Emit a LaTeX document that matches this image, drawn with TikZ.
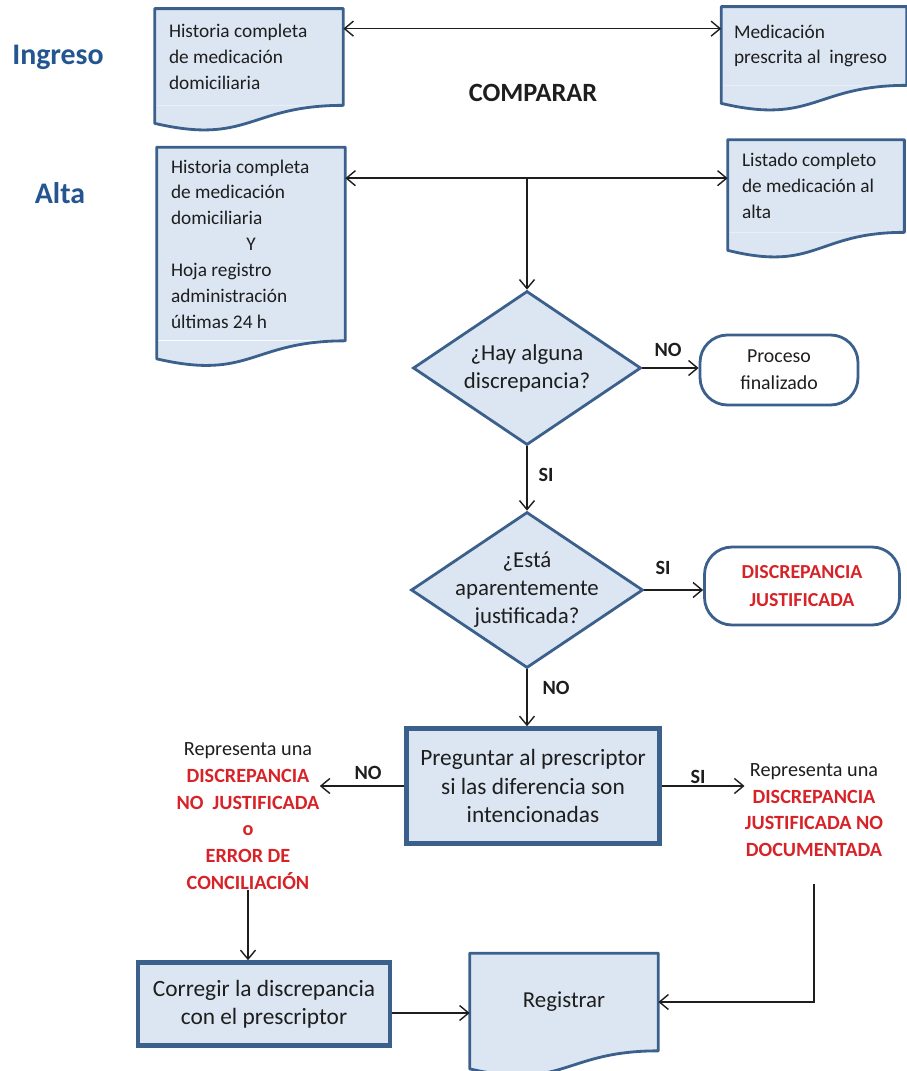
\documentclass[tikz,border=0pt]{standalone}
\usepackage{fontspec}
\setmainfont{Carlito}
\usetikzlibrary{shapes.geometric,arrows.meta,calc}

\definecolor{docfill}{RGB}{220,230,242}
\definecolor{docline}{RGB}{60,96,140}
\definecolor{lblue}{RGB}{35,85,145}
\definecolor{redtxt}{RGB}{215,35,40}
\definecolor{txt}{RGB}{30,30,30}

\newcommand{\docwave}[1]{%
  \fill[docfill] (#1.south east) .. controls (#1.south) and ($(#1.south)+(0,40)$) .. ($(#1.south west)+(0,18)$) -- (#1.south west) -- cycle;
  \draw[docline, line width=1.6pt, line join=round] ($(#1.south west)+(0,18)$) -- (#1.north west) -- (#1.north east) -- (#1.south east)
    .. controls (#1.south) and ($(#1.south)+(0,40)$) .. ($(#1.south west)+(0,18)$) -- cycle;}

\begin{document}
\begin{tikzpicture}[x=0.02cm, y=-0.02cm, >={Straight Barb[length=1.8mm,width=3mm]},
  every node/.style={text=txt},
  doc/.style={fill=docfill, align=flush left, inner xsep=0.28cm, inner ysep=0pt, font=\fontsize{11}{14.7}\selectfont},
  dia/.style={diamond, draw=docline, fill=docfill, line width=1.6pt, inner sep=0pt},
  diatxt/.style={align=center, font=\fontsize{13}{16}\selectfont, text=txt},
  term/.style={draw=docline, line width=1.6pt, rounded corners=0.55cm, align=center, font=\fontsize{11.3}{15.5}\selectfont},
  act/.style={draw=docline, fill=docfill, line width=2.6pt, align=center, font=\fontsize{13.3}{16.2}\selectfont},
  side/.style={align=center, inner sep=0pt, font=\bfseries\fontsize{11.5}{15.2}\selectfont, text=redtxt},
  lab/.style={font=\bfseries\fontsize{11.5}{14}\selectfont},
  head/.style={font=\bfseries\fontsize{17}{20}\selectfont, text=lblue},
  arr/.style={->, line width=0.8pt, draw=txt}]
  \useasboundingbox (0,0) rectangle (906,1071);

  \node[head] (ingreso) at (58,57) {Ingreso};
  \node[head] (alta) at (60,193) {Alta};
  \node[font=\bfseries\fontsize{15}{18}\selectfont] (comparar) at (533,93) {COMPARAR};

  \node[doc, text width=3.2cm, minimum height=1.92cm] (hist1) at (249,57) {Historia completa\\de medicación\\domiciliaria};
  \node[doc, inner xsep=0.25cm, text width=3.2cm, minimum height=1.56cm] (medi) at (814,46) {Medicación\\prescrita al\ \ ingreso};
  \node[doc, text width=3.2cm, minimum height=3.86cm] (hist2) at (251,244) {Historia completa\\de medicación\\domiciliaria\par{\centering Y\par}Hoja registro\\administración\\últimas 24 h};
  \node[doc, text width=2.96cm, minimum height=1.84cm] (list) at (816,186) {Listado completo\\de medicación al\\alta};

  \node[dia, minimum width=4.56cm, minimum height=3.08cm,
    label={[diatxt]center:{¿Hay alguna\\discrepancia?}}] (dia1) at (527,368) {};
  \node[term, minimum width=3.16cm, minimum height=1.4cm] (fin) at (779,370) {Proceso\\finalizado};
  \node[dia, minimum width=4.64cm, minimum height=3.12cm,
    label={[diatxt]center:{¿Está\\aparentemente\\justificada?}}] (dia2) at (527,590) {};
  \node[term, minimum width=3.9cm, minimum height=1.56cm, text=redtxt, font=\bfseries\fontsize{11.3}{15.5}\selectfont] (just) at (802,586) {DISCREPANCIA\\JUSTIFICADA};

  \node[act, minimum width=5.06cm, minimum height=2.3cm] (preg) at (533,786) {Preguntar al prescriptor\\si las diferencia son\\intencionadas};
  \node[side] (nojust) at (248,816) {\textcolor{txt}{\mdseries Representa una}\\DISCREPANCIA\\NO\ \ JUSTIFICADA\\o\\ERROR DE\\CONCILIACIÓN};
  \node[side] (nodoc) at (814,810) {\textcolor{txt}{\mdseries Representa una}\\DISCREPANCIA\\JUSTIFICADA NO\\DOCUMENTADA};
  \node[act, minimum width=5.04cm, minimum height=1.66cm] (corr) at (264,1004) {Corregir la discrepancia\\con el prescriptor};
  \node[doc, align=center, text width=3.2cm, minimum height=1.94cm, font=\fontsize{13}{16}\selectfont] (regi) at (564,1002) {Registrar};

  \foreach \d in {hist1,medi,hist2,list,regi} {\docwave{\d}}

  \node[lab] (no1) at (668,350) {NO};
  \node[lab] (si1) at (546,475) {SI};
  \node[lab] (si2) at (663,568) {SI};
  \node[lab] (no2) at (556,688) {NO};
  \node[lab] (no3) at (368,773) {NO};
  \node[lab] (si3) at (698,777) {SI};

  \draw[arr, <->] ([yshift=-0.4cm]hist1.north east) -- ([yshift=-0.4cm]hist1.north east -| medi.west);
  \draw[arr, <->] ([yshift=-0.62cm]hist2.north east) -- ([yshift=-0.62cm]hist2.north east -| list.west);
  \draw[arr] ([yshift=-0.62cm]hist2.north east -| dia1.north) -- (dia1.north);
  \draw[arr] (dia1.east) -- (dia1.east -| fin.west);
  \draw[arr] (dia1.south) -- (dia2.north);
  \draw[arr] (dia2.east) -- (dia2.east -| just.west);
  \draw[arr] (dia2.south) -- (dia2.south |- preg.north);
  \draw[arr] (preg.west) -- (preg.west -| nojust.east);
  \draw[arr] (preg.east) -- (preg.east -| nodoc.west);
  \draw[arr] (nojust.south) -- (nojust.south |- corr.north);
  \draw[arr] ([yshift=-0.18cm]corr.east) -- ([yshift=-0.18cm]corr.east -| regi.west);
  \draw[arr] ([yshift=-0.55cm]nodoc.south) |- (regi.east);
\end{tikzpicture}
\end{document}
